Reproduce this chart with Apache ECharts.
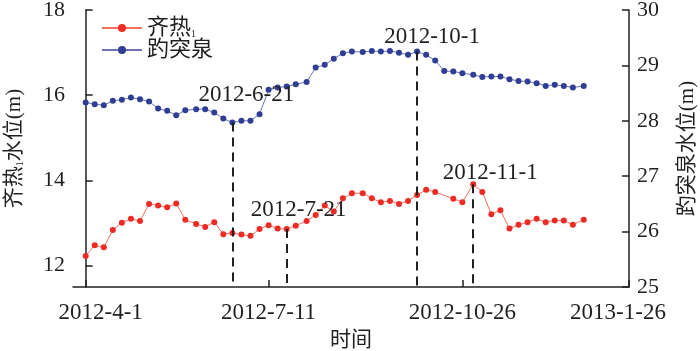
<!DOCTYPE html>
<html>
<head>
<meta charset="utf-8">
<script src="https://cdn.jsdelivr.net/npm/echarts@6/dist/echarts.min.js"></script>
<style>html,body{margin:0;padding:0;background:#fff}</style>
</head>
<body>
<div id="chart" style="width:700px;height:351px"></div>
<script>
// 5-day (pentad) observation dates
const dates = [
  '2012-4-1', '2012-4-6', '2012-4-11', '2012-4-16', '2012-4-21', '2012-4-26',
  '2012-5-1', '2012-5-6', '2012-5-11', '2012-5-16', '2012-5-21', '2012-5-26',
  '2012-6-1', '2012-6-6', '2012-6-11', '2012-6-16', '2012-6-21', '2012-6-26',
  '2012-7-1', '2012-7-6', '2012-7-11', '2012-7-16', '2012-7-21', '2012-7-26',
  '2012-8-1', '2012-8-6', '2012-8-11', '2012-8-16', '2012-8-21', '2012-8-26',
  '2012-9-1', '2012-9-6', '2012-9-11', '2012-9-16', '2012-9-21', '2012-9-26',
  '2012-10-1', '2012-10-6', '2012-10-11', '2012-10-16', '2012-10-21', '2012-10-26',
  '2012-11-1', '2012-11-6', '2012-11-11', '2012-11-16', '2012-11-21', '2012-11-26',
  '2012-12-1', '2012-12-6', '2012-12-11', '2012-12-16', '2012-12-21', '2012-12-26',
  '2013-1-1'
];
// 齐热1 water level (left axis)
const qireLevel = [
  12.23, 12.48, 12.43, 12.84, 13.01, 13.10,
  13.05, 13.45, 13.41, 13.37, 13.46, 13.08,
  12.98, 12.91, 13.02, 12.74, 12.77, 12.73,
  12.70, 12.86, 12.95, 12.87, 12.86, 12.94,
  13.05, 13.19, 13.41, 13.27, 13.58, 13.70,
  13.70, 13.58, 13.49, 13.52, 13.45, 13.52,
  13.66, 13.78, 13.73, null, 13.57, 13.49,
  13.91, 13.73, 13.21, 13.30, 12.87, 12.96,
  13.02, 13.10, 13.02, 13.06, 13.06, 12.96,
  13.08
];
// 趵突泉 water level (right axis)
const baotuLevel = [
  28.33, 28.30, 28.28, 28.36, 28.38, 28.42,
  28.39, 28.35, 28.22, 28.18, 28.10, 28.19,
  28.21, 28.21, 28.15, 28.04, 27.97, 28.00,
  28.00, 28.12, 28.56, 28.60, 28.62, 28.66,
  28.70, 28.96, 29.01, 29.12, 29.22, 29.25,
  29.24, 29.26, 29.25, 29.26, 29.23, 29.19,
  29.25, 29.19, 29.09, 28.90, 28.89, 28.86,
  28.83, 28.79, 28.80, 28.80, 28.75, 28.72,
  28.71, 28.68, 28.63, 28.65, 28.63, 28.60,
  28.63
];
const xTickDates = ['2012-4-1', '2012-7-11', '2012-10-26', '2013-1-26'];
const leftTicks = [12, 14, 16, 18];
const rightTicks = [25, 26, 27, 28, 29, 30];
const markDates = ['2012-6-21', '2012-7-21', '2012-10-1', '2012-11-1'];
const markOn = ['baotu', 'qire', 'baotu', 'qire'];
// label offsets of the date annotations (style only)
const markOffsets = [[14, -28], [12, -19], [15, -15], [17, -11]];

const FONT = "'Liberation Serif', 'Noto Sans CJK SC', serif";
const INK = '#231f20';

function dayOf(s) {
  const p = s.split('-').map(Number);
  return (Date.UTC(p[0], p[1] - 1, p[2]) - Date.UTC(2012, 3, 1)) / 86400000;
}
const xTicks = xTickDates.map(dayOf);

function buildMarks(key, values, yMin) {
  const lines = [], points = [];
  markDates.forEach((d, i) => {
    if (markOn[i] !== key) return;
    const v = values[dates.indexOf(d)];
    const x = dayOf(d);
    lines.push([{ coord: [x, v] }, { coord: [x, yMin] }]);
    points.push({ coord: [x, v], value: d, label: { offset: markOffsets[i] } });
  });
  return {
    markLine: {
      silent: true, symbol: ['none', 'none'], label: { show: false },
      lineStyle: { color: INK, width: 2, type: [9, 6] },
      data: lines
    },
    markPoint: {
      silent: true, symbol: 'circle', symbolSize: 0,
      itemStyle: { color: 'transparent' },
      label: { show: true, position: 'inside', color: INK, fontSize: 23, fontFamily: FONT, formatter: p => p.value },
      data: points
    }
  };
}

const chart = echarts.init(document.getElementById('chart'));
const qireMarks = buildMarks('qire', qireLevel, 11.5);
const baotuMarks = buildMarks('baotu', baotuLevel, 25);

const axisCommon = {
  axisLine: { show: true, lineStyle: { color: INK, width: 1.5 } },
  axisTick: { show: true, inside: true, length: 7, lineStyle: { color: INK, width: 1.5 } },
  splitLine: { show: false },
  nameTextStyle: { color: INK, fontSize: 21, fontFamily: FONT, rich: { s: { fontSize: 10, fontFamily: FONT, color: INK, verticalAlign: 'bottom' } } }
};

chart.setOption({
  animation: false,
  backgroundColor: '#fff',
  grid: { left: 73, right: 71, top: 10, bottom: 64, outerBoundsMode: 'none', containLabel: false },
  legend: {
    left: 96, top: 12, orient: 'vertical', itemWidth: 40, itemHeight: 10, itemGap: 0,
    textStyle: { color: INK, fontSize: 22, fontFamily: FONT, rich: { sub: { fontSize: 10, fontFamily: FONT, color: INK, verticalAlign: 'bottom', padding: [10, 0, 0, 0] } } },
    formatter: n => n === '齐热1' ? '齐热{sub|1}' : n,
    data: ['齐热1', '趵突泉']
  },
  xAxis: Object.assign({}, axisCommon, {
    type: 'value', min: -7, max: dayOf('2013-1-26'),
    name: '时间', nameLocation: 'middle', nameGap: 43,
    axisTick: Object.assign({}, axisCommon.axisTick, { customValues: xTicks }),
    axisLabel: {
      customValues: xTicks, margin: 14, color: INK, fontSize: 23, fontFamily: FONT,
      formatter: v => {
        const i = xTicks.indexOf(v);
        if (i < 0) return '';
        if (i === 0) return '{a|' + xTickDates[i] + '}';
        if (i === xTicks.length - 1) return '{b|' + xTickDates[i] + '}';
        return xTickDates[i];
      },
      rich: {
        a: { fontSize: 23, fontFamily: FONT, color: INK, padding: [0, 0, 0, 30] },
        b: { fontSize: 23, fontFamily: FONT, color: INK, padding: [0, 22, 0, 0] }
      }
    }
  }),
  yAxis: [
    Object.assign({}, axisCommon, {
      type: 'value', position: 'left', min: 11.5, max: 18,
      name: '齐热{s|1}水位(m)', nameLocation: 'middle', nameGap: 48, nameRotate: 90,
      axisTick: Object.assign({}, axisCommon.axisTick, { customValues: leftTicks }),
      axisLabel: { customValues: leftTicks, margin: 8, color: INK, fontSize: 22, fontFamily: FONT }
    }),
    Object.assign({}, axisCommon, {
      type: 'value', position: 'right', min: 25, max: 30,
      name: '趵突泉水位(m)', nameLocation: 'middle', nameGap: 48, nameRotate: 90,
      axisTick: Object.assign({}, axisCommon.axisTick, { customValues: rightTicks }),
      axisLabel: { customValues: rightTicks, margin: 8, color: INK, fontSize: 22, fontFamily: FONT }
    })
  ],
  series: [
    Object.assign({
      name: '齐热1', type: 'line', yAxisIndex: 0, connectNulls: true,
      symbol: 'circle', symbolSize: 6,
      itemStyle: { color: '#ee2b24' },
      lineStyle: { color: '#f2705f', width: 1 },
      data: dates.map((d, i) => [dayOf(d), qireLevel[i]])
    }, qireMarks),
    Object.assign({
      name: '趵突泉', type: 'line', yAxisIndex: 1,
      symbol: 'circle', symbolSize: 6,
      itemStyle: { color: '#2f3d93' },
      lineStyle: { color: '#6a74bd', width: 1 },
      data: dates.map((d, i) => [dayOf(d), baotuLevel[i]])
    }, baotuMarks)
  ]
});
</script>
</body>
</html>
